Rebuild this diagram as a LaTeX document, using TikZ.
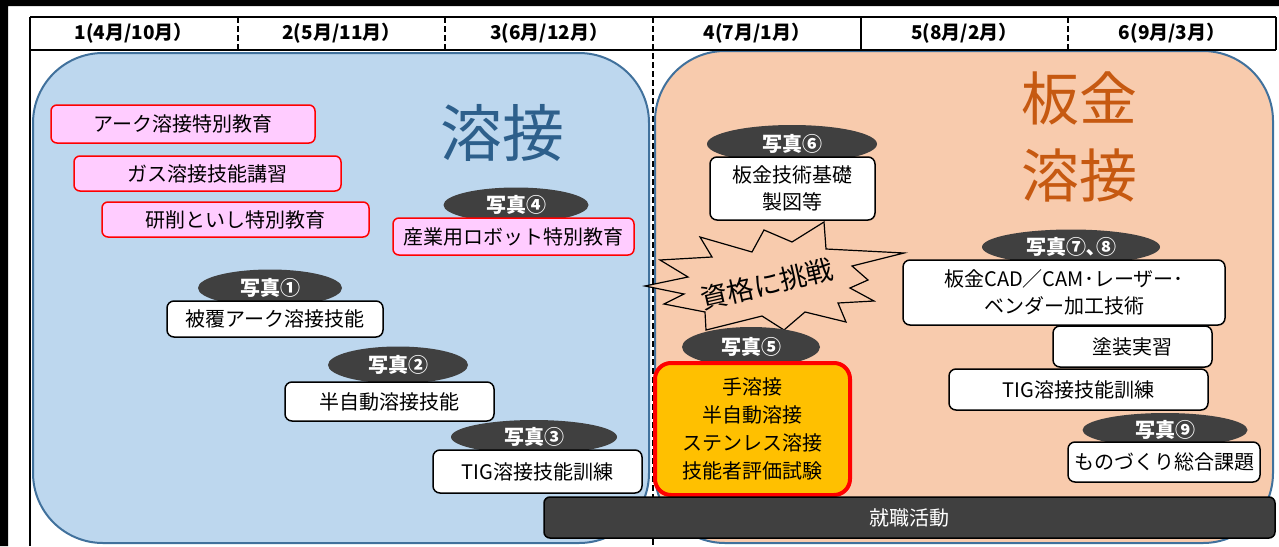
\documentclass[tikz,border=0pt]{standalone}
\usepackage{fontspec}
\setmainfont{Noto Sans CJK JP}
\usetikzlibrary{shapes.geometric}
\definecolor{weldblue}{HTML}{BDD7EE}
\definecolor{weldedge}{HTML}{41719C}
\definecolor{weldtitle}{HTML}{2D5F8B}
\definecolor{sheetorange}{HTML}{F8CBAD}
\definecolor{sheettitle}{HTML}{C65911}
\definecolor{boxpink}{HTML}{FFCCFF}
\definecolor{tagdark}{HTML}{404040}
\definecolor{examyellow}{HTML}{FFC000}

\begin{document}
\begin{tikzpicture}[x=1pt,y=-1pt,
  photo/.style={ellipse,fill=tagdark,text=white,inner sep=0pt,font=\fontsize{20}{24}\selectfont\bfseries},
  pinkbox/.style={draw=red,line width=1.5pt,fill=boxpink,rounded corners=6,inner sep=0pt,font=\fontsize{20}{24}\selectfont},
  whitebox/.style={draw=black,line width=1.5pt,fill=white,rounded corners=7,inner sep=0pt,align=center,font=\fontsize{20}{27}\selectfont},
  sep/.style={line width=2pt,dash pattern=on 6pt off 3pt}]
\useasboundingbox (0,0) rectangle (1279,546);
\fill[white] (0,0) rectangle (1279,546);
\fill[black] (0,0) rectangle (1279,6) (0,0) rectangle (8,546);
%%%% middle dashed line
\draw[sep] (653,17) coordinate (M1) -- (653,546) coordinate (M2);
%%%% two areas
\draw[weldedge,fill=weldblue,line width=2pt,rounded corners=70] (33,53) rectangle (649,543);
\draw[weldedge,fill=sheetorange,line width=2pt,rounded corners=70] (655,51) rectangle (1273,543);
\node[text=weldtitle,font=\fontsize{62}{70}\selectfont] (weld) at (502,133) {溶接};
\node[text=sheettitle,font=\fontsize{58}{77}\selectfont,align=center] (sheet) at (1079,137) {板金\\溶接};
%%%% header
\draw[line width=2pt] (30,17) -- (1276,17) (30,50) -- (1276,50);
\draw[line width=2pt] (30,17) -- (30,546) (1276,17) -- (1276,50) (861,17) -- (861,50);
\foreach \x in {238,445,1068}
  \draw[sep] (\x,17) -- (\x,50);
\foreach \mon [count=\i] in {{4月/10月},{5月/11月},{6月/12月},{7月/1月},{8月/2月},{9月/3月}}
  \node[font=\fontsize{19}{22}\selectfont\bfseries] (head\i) at ({30+207.67*(\i-0.5)},33) {\i(\mon）};
%%%% welding
\node[pinkbox,minimum width=264,minimum height=38] (arc) at (183,124) {アーク溶接特別教育};
\node[pinkbox,minimum width=267,minimum height=35] (gas) at (207.5,173.5) {ガス溶接技能講習};
\node[pinkbox,minimum width=267,minimum height=35] (grind) at (235.5,219.5) {研削といし特別教育};
\node[photo,minimum width=145,minimum height=35] (p4) at (516,205) {写真④};
\node[pinkbox,minimum width=241,minimum height=37] (robot) at (513.5,236.5) {産業用ロボット特別教育};
%
\node[photo,minimum width=144,minimum height=37] (p1) at (270,288) {写真①};
\node[whitebox,minimum width=216,minimum height=36] (covered) at (275,319) {被覆アーク溶接技能};
\node[photo,minimum width=140,minimum height=37] (p2) at (398,365) {写真②};
\node[whitebox,minimum width=209,minimum height=39] (semi) at (389.5,401.5) {半自動溶接技能};
\node[photo,minimum width=166,minimum height=34] (p3) at (534,437) {写真③};
\node[whitebox,minimum width=209,minimum height=43] (tigl) at (537.5,471.5) {TIG溶接技能訓練};
%%%% sheet metal
\node[photo,minimum width=170,minimum height=38] (p6) at (792,144) {写真⑥};
\node[whitebox,minimum width=165,minimum height=63] (basics) at (792.5,188.5) {板金技術基礎\\製図等};
%starburst
\draw[line width=1.2pt,fill=sheetorange,line join=miter]
  (645,286) -- (688,277) -- (660,260) -- (712,257) -- (700,237) -- (752,252)
  -- (764,230) -- (792,242) -- (824,222) -- (826,249) -- (904,253) -- (852,266)
  -- (868,280) -- (850,288) -- (874,301) -- (838,303) -- (846,322) -- (805,312)
  -- (784,330) -- (762,316) -- (706,330) -- (705,312) -- (664,304) -- (684,294) -- cycle;
\node[rotate=13,font=\fontsize{27}{30}\selectfont] (challenge) at (767,284) {資格に挑戦};
%
\node[photo,minimum width=138,minimum height=40] (p5) at (751,347) {写真⑤};
\node[draw=red,line width=4pt,fill=examyellow,rounded corners=16,inner sep=0pt,align=center,
  minimum width=195,minimum height=132,font=\fontsize{20}{28}\selectfont] (exam) at (752.5,429)
  {手溶接\\半自動溶接\\ステンレス溶接\\技能者評価試験};
%
\node[photo,minimum width=178,minimum height=35] (p78) at (1071,247) {写真⑦､⑧};
\node[whitebox,minimum width=322,minimum height=65] (cad) at (1064,292.5) {板金CAD／CAM･レーザー･\\ベンダー加工技術};
\node[whitebox,minimum width=159,minimum height=41] (paint) at (1132.5,346.5) {塗装実習};
\node[whitebox,minimum width=259,minimum height=41] (tigr) at (1078.5,389.5) {TIG溶接技能訓練};
\node[photo,minimum width=165,minimum height=34] (p9) at (1165,430) {写真⑨};
\node[whitebox,minimum width=192,minimum height=40] (making) at (1164,462) {ものづくり総合課題};
%%%% job hunting
\node[draw=black,line width=1.5pt,fill=tagdark,rounded corners=6,inner sep=0pt,text=white,
  minimum width=731,minimum height=41,font=\fontsize{20}{24}\selectfont] (job) at (909.5,517.5) {就職活動};
\end{tikzpicture}
\end{document}
